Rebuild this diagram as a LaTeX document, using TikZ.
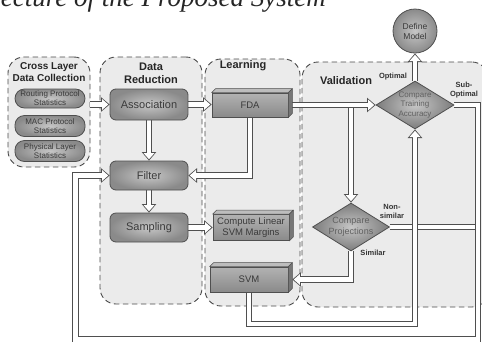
\documentclass[tikz,border=0pt]{standalone}
\usepackage{fontspec}
\setmainfont{Liberation Serif}
\setsansfont{Liberation Sans}
\usetikzlibrary{arrows.meta,shapes.geometric,calc}
\definecolor{panelfill}{HTML}{EBEBEB}
\definecolor{dashc}{HTML}{4A4A4A}
\definecolor{boxdark}{HTML}{8A8A8A}
\definecolor{boxlight}{HTML}{C6C6C6}
\definecolor{edgec}{HTML}{4F4F4F}
\definecolor{txtc}{HTML}{3A3A3A}
\definecolor{cubetopc}{HTML}{BDBDBD}
\definecolor{cubesidec}{HTML}{767676}
\pgfdeclarelayer{bg}
\pgfdeclarelayer{arr}
\pgfsetlayers{bg,arr,main}
\newcommand\mkcube[1]{%
  \draw[cubeface, fill=cubetopc] (#1.north west) -- ++(4,-4) -- ($(#1.north east)+(4,-4)$) -- (#1.north east) -- cycle;
  \draw[cubeface, fill=cubesidec] (#1.north east) -- ++(4,-4) -- ($(#1.south east)+(4,-4)$) -- (#1.south east) -- cycle;
}
\begin{document}
\begin{tikzpicture}[x=1pt,y=-1pt,
  every node/.style={font=\sffamily},
  panel/.style={draw=dashc, dash pattern=on 5.5pt off 3.5pt, line width=0.9pt, fill=panelfill, rounded corners=16pt, inner sep=0pt},
  ttl/.style={font=\sffamily\bfseries\fontsize{11}{13}\selectfont, align=center, text=black!85},
  stat/.style={rectangle, rounded corners=9.5pt, draw=edgec, line width=0.8pt, inner color=boxlight, outer color=boxdark, minimum width=70pt, align=center, font=\sffamily\fontsize{8}{9}\selectfont, text=txtc, inner sep=0pt},
  rbox/.style={rectangle, rounded corners=6pt, draw=edgec, line width=0.8pt, inner color=boxlight, outer color=boxdark, minimum width=78pt, font=\sffamily\fontsize{11}{13}\selectfont, text=txtc},
  cube/.style={rectangle, draw=edgec, line width=0.7pt, top color=boxlight!90!black, bottom color=boxdark, font=\sffamily\fontsize{9.5}{11}\selectfont, align=center, text=txtc, inner sep=0pt},
  cubeface/.style={draw=edgec, line width=0.6pt, line join=round},
  dia/.style={diamond, draw=edgec, line width=0.8pt, inner color=boxlight, outer color=boxdark!90!black, inner sep=0pt},
  diatext/.style={font=\sffamily\fontsize{8}{9.5}\selectfont, align=center, text=black!62},
  dm/.style={circle, draw=edgec, line width=0.8pt, inner color=boxlight, outer color=boxdark, minimum size=44pt, inner sep=0pt, align=center, font=\sffamily\fontsize{8.5}{10}\selectfont, text=txtc},
  lbl/.style={font=\sffamily\bfseries\fontsize{7.5}{9}\selectfont, align=center, text=black!80},
  blk/.style={draw=white, line width=4.6pt, -{Triangle[length=6.2pt,width=11pt,line width=0pt]}, shorten >=1.4pt,
     preaction={draw=edgec, line width=6.6pt, -{Triangle[length=8.6pt,width=14.6pt,line width=0pt]}, shorten >=0pt}},
  blkline/.style={draw=white, line width=4.6pt, preaction={draw=edgec, line width=6.6pt}}
]
\useasboundingbox (0,0) rectangle (482,341);

% title fragment
\node[anchor=base east, font=\rmfamily\itshape\fontsize{27}{27}\selectfont, text=black!85, inner sep=0pt] (title) at (326,6) {ecture of the Proposed System};

% panels
\begin{pgfonlayer}{bg}
\node[panel, minimum width=82pt, minimum height=110pt] (p1) at (49,112) {};
\node[panel, minimum width=102pt, minimum height=247pt] (p2) at (151,180.5) {};
\node[panel, minimum width=95pt, minimum height=247pt] (p3) at (252.5,182.5) {};
\node[panel, minimum width=186pt, minimum height=245pt] (p4) at (395,184.5) {};
\end{pgfonlayer}

\node[ttl, font=\sffamily\bfseries\fontsize{10}{12}\selectfont] (t1) at (49,72) {Cross Layer\\Data Collection};
\node[ttl] (t2) at (151,73) {Data\\Reduction};
\node[ttl] (t3) at (243,66) {Learning};
\node[ttl] (t4) at (346,81) {Validation};

% statistics
\node[stat, minimum height=19pt] (s1) at (50,98.5) {Routing Protocol\\Statistics};
\node[stat, minimum height=21pt] (s2) at (50,126) {MAC Protocol\\Statistics};
\node[stat, minimum height=21pt] (s3) at (50,151) {Physical Layer\\Statistics};

% data reduction
\node[rbox, minimum height=31pt] (assoc) at (149,104.5) {Association};
\node[rbox, minimum height=29pt] (filter) at (149,175.5) {Filter};
\node[rbox, minimum height=29pt] (samp) at (149,227.5) {Sampling};

% learning
\node[cube, minimum width=76pt, minimum height=24pt] (fda) at (250,105) {FDA};
\node[cube, minimum width=76pt, minimum height=26pt] (clsvm) at (251,227.5) {Compute Linear\\SVM Margins};
\node[cube, minimum width=78pt, minimum height=25pt] (svm) at (249,279.5) {SVM};
\mkcube{fda}
\mkcube{clsvm}
\mkcube{svm}

% validation
\node[dia, minimum width=78pt, minimum height=48pt, label={[diatext]center:Compare\\Training\\Accuracy}] (cta) at (415,105) {};
\node[dia, minimum width=77pt, minimum height=48pt, label={[diatext, font=\sffamily\fontsize{9}{10.5}\selectfont]center:Compare\\Projections}] (cp) at (351,227) {};
\node[dm] (dm) at (415,31) {Define\\Model};

\node[lbl] (lopt) at (393,77) {Optimal};
\node[lbl] (lsub) at (464,90) {Sub-\\Optimal};
\node[lbl] (lnon) at (392,211) {Non-\\similar};
\node[lbl] (lsim) at (373,253) {Similar};

\coordinate (rx) at (478,105);
\coordinate (rb) at (478,339.5);
\coordinate (lb) at (75.5,339.5);
\coordinate (sb) at (249.5,324);

\begin{pgfonlayer}{arr}
\draw[blk] (p1.east |- assoc.west) -- (assoc.west);
\draw[blk] (assoc.east) -- (assoc.east -| fda.west);
\draw[blk] (assoc.south) -- (filter.north);
\draw[blk] (fda.south) -- (fda.south |- filter.east) -- (filter.east);
\draw[blk] (filter.south) -- (samp.north);
\draw[blk] (samp.east) -- (clsvm.west);
\draw[blk] ([xshift=4pt]fda.east) -- (cta.west);
\draw[blk] ($(cp.north |- cta.west)+(0,3.3)$) -- (cp.north);
\draw[blk] (cp.south) -- (cp.south |- svm.east) -- ([xshift=4pt]svm.east);
\draw[blkline] (cp.east) -- (cp.east -| rx);
\draw[blk] (cta.east) -- (rx) -- (rb) -- (lb) -- (lb |- filter.west) -- (filter.west);
\draw[blk] (svm.south) -- (svm.south |- sb) -- (cta.south |- sb) -- (cta.south);
\draw[blk] (cta.north) -- (dm.south);
\end{pgfonlayer}
\end{tikzpicture}
\end{document}
